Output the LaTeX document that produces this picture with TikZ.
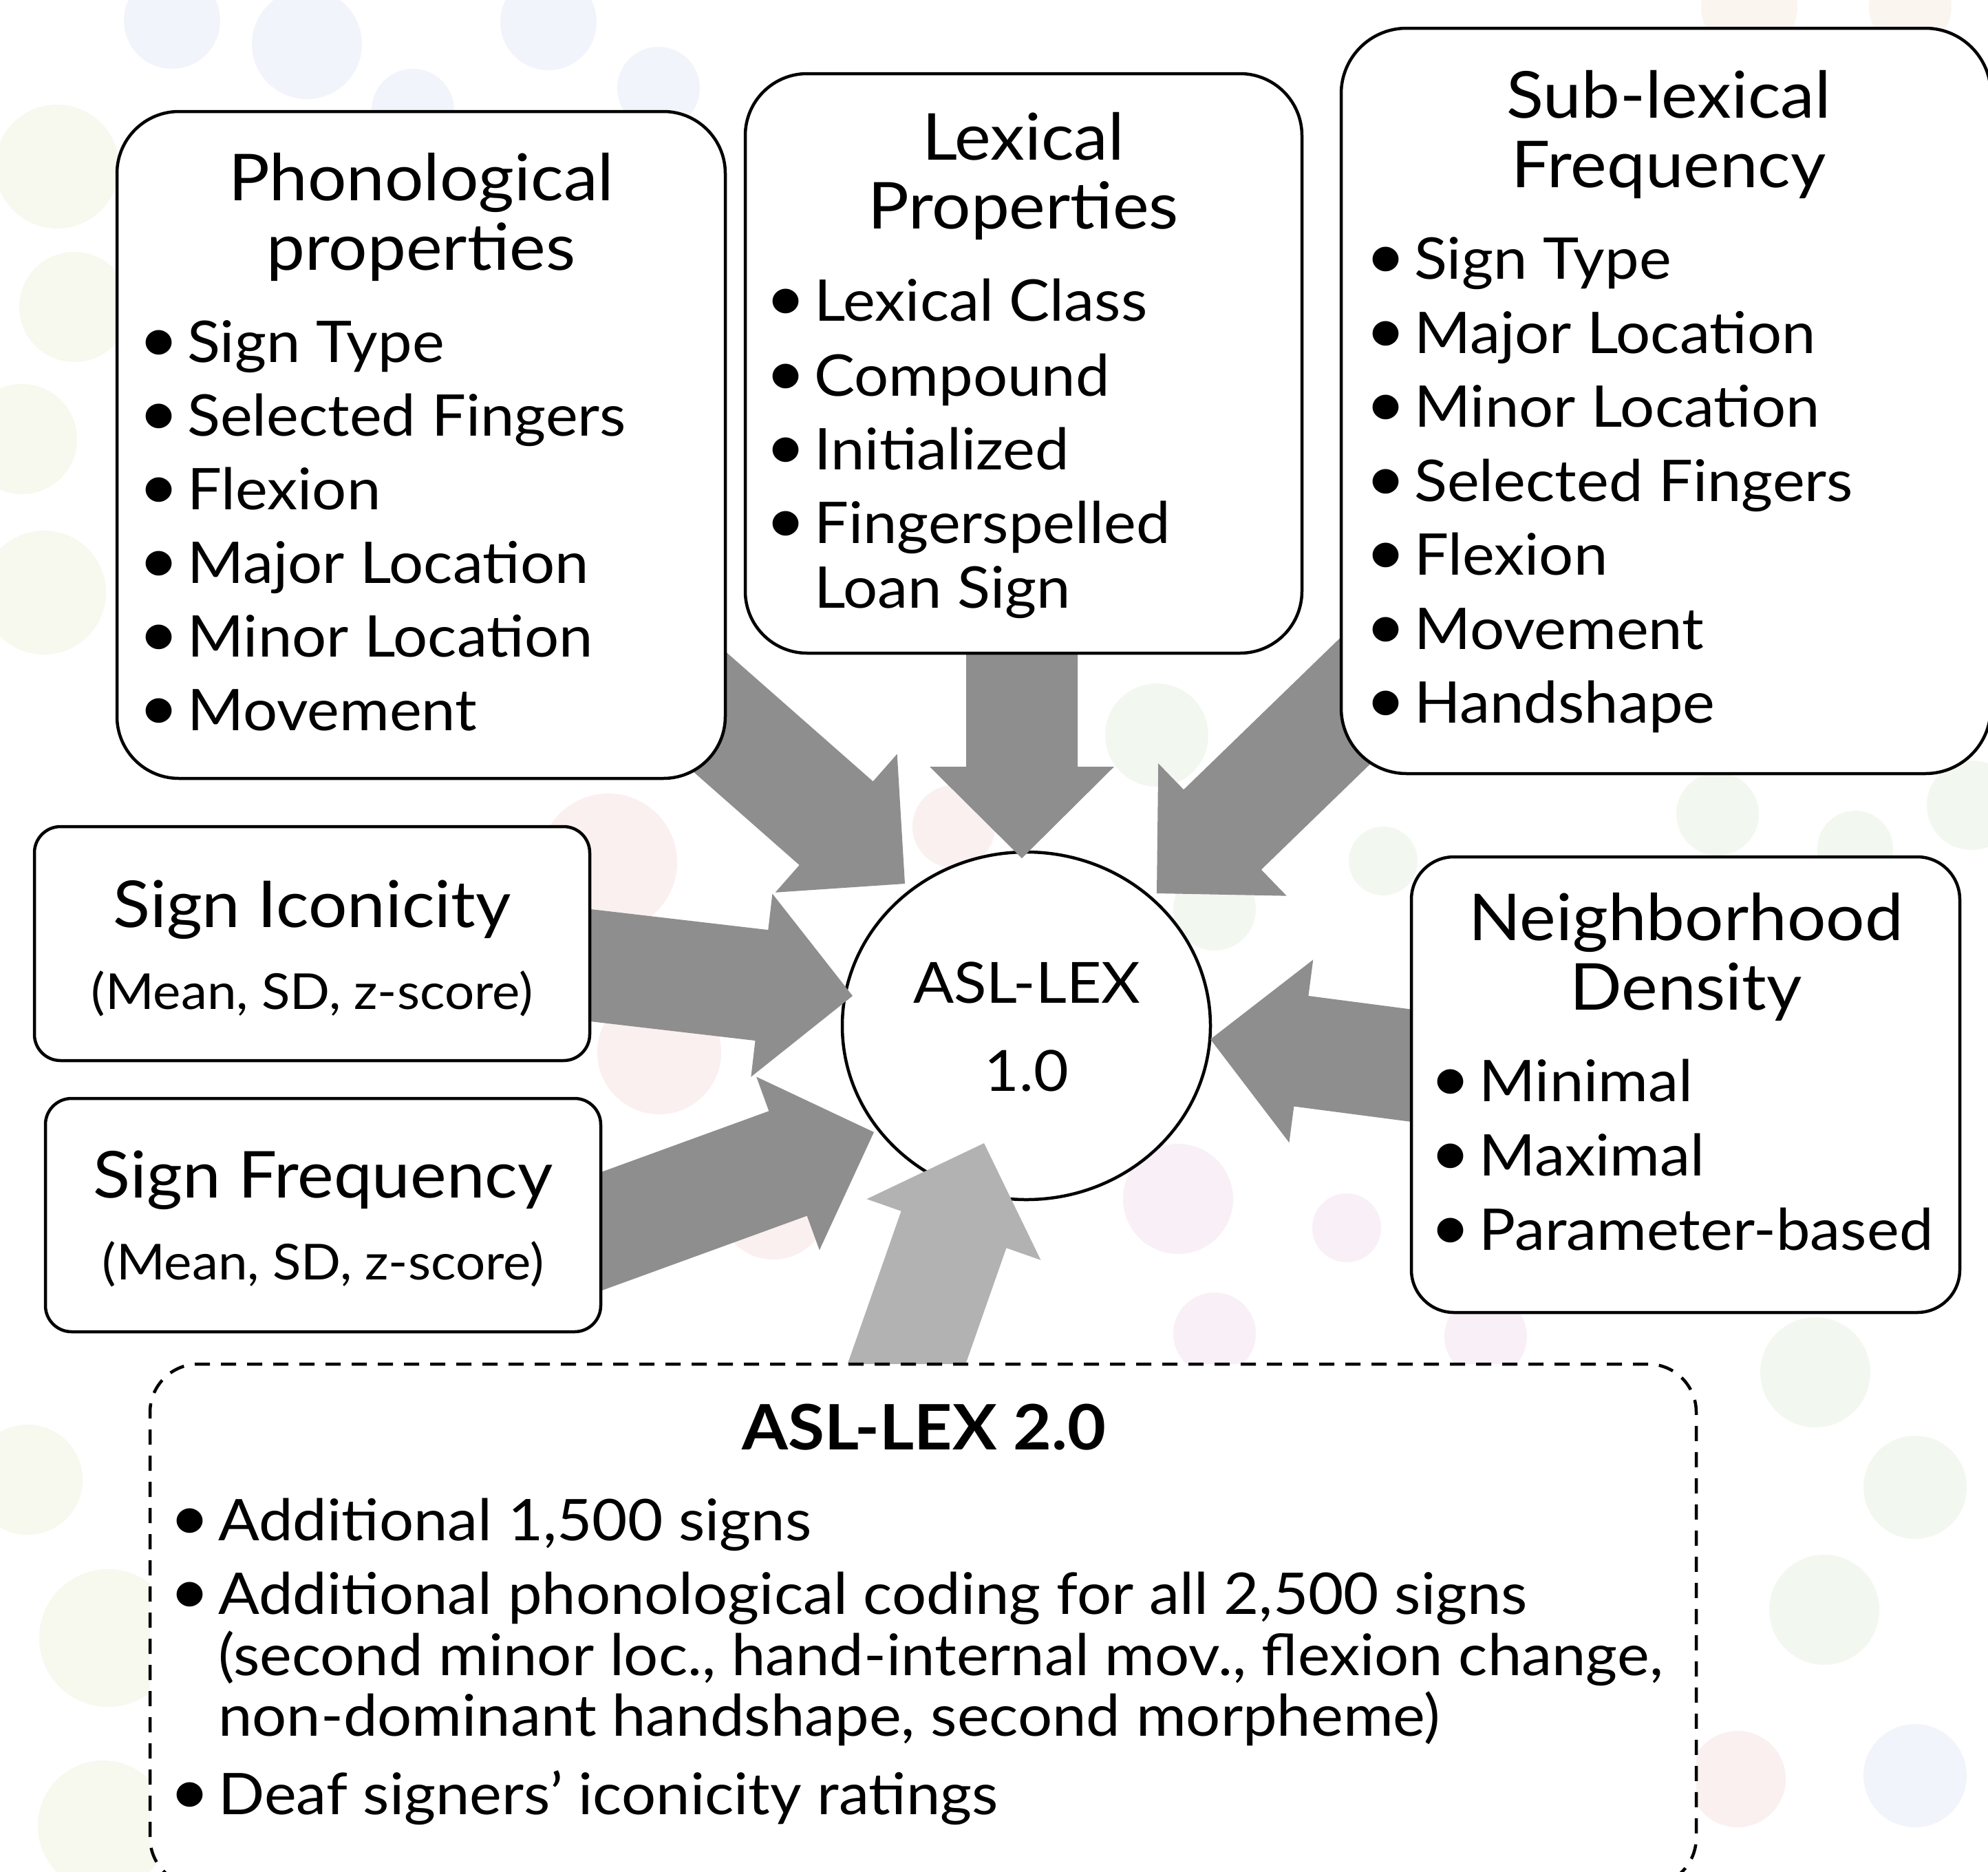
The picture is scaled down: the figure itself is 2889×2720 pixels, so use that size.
\documentclass[tikz,border=0pt]{standalone}
\usepackage{fontspec}
\setmainfont[FakeStretch=1.06]{Lato}
\usetikzlibrary{calc,shapes.geometric}
\definecolor{arrdark}{HTML}{8E8E8E}
\definecolor{arrlight}{HTML}{B2B2B2}
\definecolor{bgb}{HTML}{F1F4FA}
\definecolor{bgg}{HTML}{F2F8EF}
\definecolor{bgy}{HTML}{F7F8EE}
\definecolor{bgp}{HTML}{FAF0F0}
\definecolor{bgv}{HTML}{F8F0F6}
\definecolor{bgo}{HTML}{FBF5F0}
\tikzset{
  roundbox/.style={draw=black, line width=4.5pt, fill=white, inner sep=0pt, outer sep=0pt, rounded corners=#1},
  dashbox/.style={draw=black, line width=4.5pt, fill=white, inner sep=0pt, outer sep=0pt, rounded corners=70pt, dash pattern=on 22pt off 16pt},
  ttl/.style={anchor=base, inner sep=0pt, font=\fontsize{94}{100}\selectfont},
  ttlb/.style={anchor=base, inner sep=0pt, font=\fontsize{91}{100}\selectfont\bfseries},
  itm/.style={anchor=base west, inner sep=0pt, font=\fontsize{83.5}{90}\selectfont},
  bul/.style={anchor=base, inner sep=0pt, font=\fontsize{96}{100}\selectfont},
  subt/.style={anchor=base, inner sep=0pt, font=\fontsize{72}{80}\selectfont},
  ctr/.style={anchor=base, inner sep=0pt, font=\fontsize{82.5}{90}\selectfont},
  darkarrow/.style={fill=arrdark},
  lightarrow/.style={fill=arrlight},
  dot/.style={fill=#1, draw=none}
}
% fat arrow: #1 prefix, #2 tail, #3 tip, #4 style
\newcommand\fatarrow[4]{%
  \coordinate (#1b) at ($(#3)!133pt!(#2)$);
  \path[#4] ($(#2)!81pt!90:(#3)$) -- ($(#1b)!81pt!-90:(#2)$) -- ($(#1b)!134pt!-90:(#2)$) -- (#3)
     -- ($(#1b)!134pt!90:(#2)$) -- ($(#1b)!81pt!90:(#2)$) -- ($(#2)!81pt!-90:(#3)$) -- cycle;
}
\newcommand\bitem[4]{% name, bullet x, y, text (text x = bullet x + 42)
  \node[bul] (#1b) at (#2,#3) {•};
  \node[itm] (#1) at ($(#2,#3)+(41,0)$) {#4};
}
\begin{document}
\begin{tikzpicture}[x=1pt,y=-1pt]
\clip (0,0) rectangle (2889,2720);
\fill[white] (0,0) rectangle (2889,2720);
% background dots
\foreach \x/\y/\r in {446/64/80, 600/160/60, 797/32/70, 957/128/60, 250/30/70, 2783/2580/75}
  \fill[dot=bgb] (\x,\y) circle (\r);
\foreach \x/\y/\r in {1681/1068/75, 2010/1251/50, 1765/1321/60, 2638/1994/80, 2783/2161/75, 2651/2339/80, 2496/1183/60, 2696/1233/55, 2865/1170/65}
  \fill[dot=bgg] (\x,\y) circle (\r);
\foreach \x/\y/\r in {83/242/90, 108/446/80, 32/638/80, 64/861/90, 157/2380/100, 150/2653/95, 40/2150/80}
  \fill[dot=bgy] (\x,\y) circle (\r);
\foreach \x/\y/\r in {1386/1201/60, 884/1253/100, 958/1529/90, 1124/1750/80, 2525/2585/70}
  \fill[dot=bgp] (\x,\y) circle (\r);
\foreach \x/\y/\r in {1712/1742/80, 1957/1784/50, 1765/1938/60, 2159/1942/60}
  \fill[dot=bgv] (\x,\y) circle (\r);
\foreach \x/\y/\r in {2542/10/70, 2776/10/60}
  \fill[dot=bgo] (\x,\y) circle (\r);

% central ellipse
\node[ellipse, draw=black, line width=4.5pt, fill=white, inner sep=0pt, minimum width=535pt, minimum height=505pt] (c) at (1491.5,1490.5) {};

% arrow end points
\coordinate (tailPh) at (940,954);    \coordinate (tipPh) at (1315,1284);
\coordinate (tailLx) at (1485,880);   \coordinate (tipLx) at (1485,1247);
\coordinate (tailSl) at (2040,950);   \coordinate (tipSl) at (1681,1298);
\coordinate (tailIc) at (742,1389);   \coordinate (tipIc) at (1239,1447);
\coordinate (tailFq) at (800,1816);   \coordinate (tipFq) at (1270,1645);
\coordinate (tailNb) at (2255,1575);  \coordinate (tipNb) at (1759,1510);
\coordinate (tailV) at (1281,2086);   \coordinate (tipV) at (1430,1661);

\fatarrow{aPh}{tailPh}{tipPh}{darkarrow}
\fatarrow{aLx}{tailLx}{tipLx}{darkarrow}
\fatarrow{aSl}{tailSl}{tipSl}{darkarrow}
\fatarrow{aIc}{tailIc}{tipIc}{darkarrow}
\fatarrow{aFq}{tailFq}{tipFq}{darkarrow}
\fatarrow{aNb}{tailNb}{tipNb}{darkarrow}
\fatarrow{aV}{tailV}{tipV}{lightarrow}

% boxes
\node[roundbox=90pt, minimum width=884pt, minimum height=969pt] (ph) at (612,646.5) {};
\node[roundbox=90pt, minimum width=809pt, minimum height=842pt] (lx) at (1487.5,528) {};
\node[roundbox=95pt, minimum width=944pt, minimum height=1083pt] (sl) at (2421,582.5) {};
\node[roundbox=38pt, minimum width=807pt, minimum height=340pt] (ic) at (453.5,1371) {};
\node[roundbox=38pt, minimum width=807pt, minimum height=339pt] (fq) at (469.5,1765.5) {};
\node[roundbox=62pt, minimum width=797pt, minimum height=662pt] (nb) at (2449.5,1576) {};
\node[dashbox, minimum width=2247pt, minimum height=758pt] (v2) at (1341.5,2361) {};

% circle text
\node[ctr] (c1) at (1492,1457) {ASL-LEX};
\node[ctr] (c2) at (1492,1585) {1.0};

% Phonological
\node[ttl] (phT1) at (612,291) {Phonological};
\node[ttl] (phT2) at (612,392) {properties};
\bitem{ph1}{231}{526}{Sign Type}
\bitem{ph2}{231}{633}{Selected Fingers}
\bitem{ph3}{231}{740}{Flexion}
\bitem{ph4}{231}{847}{Major Location}
\bitem{ph5}{231}{954}{Minor Location}
\bitem{ph6}{231}{1061}{Movement}

% Lexical
\node[ttl] (lxT1) at (1487,232) {Lexical};
\node[ttl] (lxT2) at (1487,332) {Properties};
\bitem{lx1}{1142}{466}{Lexical Class}
\bitem{lx2}{1142}{575}{Compound}
\bitem{lx3}{1142}{682}{Initialized}
\bitem{lx4}{1142}{789}{Fingerspelled}
\node[itm] (lx5) at (1183,883) {Loan Sign};

% Sub-lexical
\node[ttl] (slT1) at (2425,171) {Sub-lexical};
\node[ttl] (slT2) at (2425,272) {Frequency};
\bitem{sl1}{2014}{405}{Sign Type}
\bitem{sl2}{2014}{513}{Major Location}
\bitem{sl3}{2014}{620}{Minor Location}
\bitem{sl4}{2014}{728}{Selected Fingers}
\bitem{sl5}{2014}{835}{Flexion}
\bitem{sl6}{2014}{943}{Movement}
\bitem{sl7}{2014}{1050}{Handshape}

% Sign Iconicity / Frequency
\node[ttl] (icT) at (453.5,1347) {Sign Iconicity};
\node[subt] (icS) at (453.5,1466) {(Mean, SD, z-score)};
\node[ttl] (fqT) at (469.5,1740) {Sign Frequency};
\node[subt] (fqS) at (469.5,1859) {(Mean, SD, z-score)};

% Neighborhood
\node[ttl] (nbT1) at (2450,1366) {Neighborhood};
\node[ttl] (nbT2) at (2450,1467) {Density};
\bitem{nb1}{2108}{1600}{Minimal}
\bitem{nb2}{2108}{1708}{Maximal}
\bitem{nb3}{2108}{1816}{Parameter-based}

% ASL-LEX 2.0
\node[ttlb] (v2T) at (1343,2106) {ASL-LEX 2.0};
\bitem{v21}{276}{2238}{Additional 1,500 signs}
\bitem{v22}{276}{2345}{Additional phonological coding for all 2,500 signs}
\node[itm] (v23) at (317,2434) {(second minor loc., hand-internal mov., flexion change,};
\node[itm] (v24) at (317,2522) {non-dominant handshape, second morpheme)};
\bitem{v25}{276}{2636}{Deaf signers’ iconicity ratings}
\end{tikzpicture}
\end{document}
